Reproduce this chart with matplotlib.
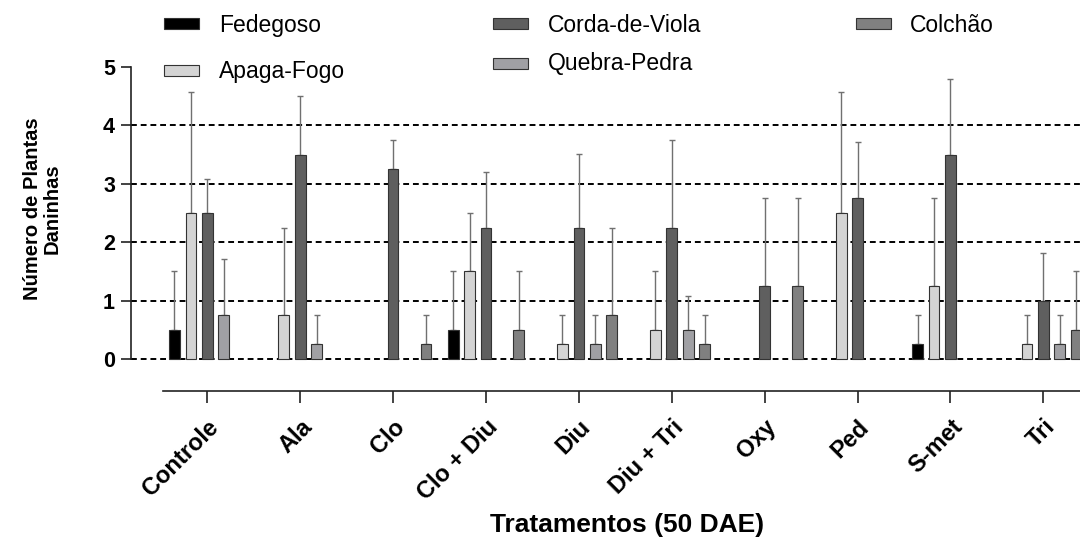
import numpy as np
import matplotlib.pyplot as plt
from matplotlib.patches import Rectangle

plt.rcParams['font.family'] = ['Liberation Sans', 'DejaVu Sans']

tratamentos = ['Controle', 'Ala', 'Clo', 'Clo + Diu', 'Diu', 'Diu + Tri',
               'Oxy', 'Ped', 'S-met', 'Tri']
especies = ['Fedegoso', 'Apaga-Fogo', 'Corda-de-Viola', 'Quebra-Pedra', 'Colchão']
cores = ['#000000', '#d4d4d4', '#5f5f5f', '#a0a0a4', '#808080']

# means per species (one value per treatment)
fedegoso   = [0.50, 0.00, 0.00, 0.50, 0.00, 0.00, 0.00, 0.00, 0.25, 0.00]
apaga_fogo = [2.50, 0.75, 0.00, 1.50, 0.25, 0.50, 0.00, 2.50, 1.25, 0.25]
corda      = [2.50, 3.50, 3.25, 2.25, 2.25, 2.25, 1.25, 2.75, 3.50, 1.00]
quebra     = [0.75, 0.25, 0.00, 0.00, 0.25, 0.50, 0.00, 0.00, 0.00, 0.25]
colchao    = [0.00, 0.00, 0.25, 0.50, 0.75, 0.25, 1.25, 0.00, 0.00, 0.50]

# standard deviations
dp_fedegoso   = [1.00, 0.00, 0.00, 1.00, 0.00, 0.00, 0.00, 0.00, 0.50, 0.00]
dp_apaga_fogo = [2.08, 1.50, 0.00, 1.00, 0.50, 1.00, 0.00, 2.08, 1.50, 0.50]
dp_corda      = [0.58, 1.00, 0.50, 0.96, 1.26, 1.50, 1.50, 0.96, 1.29, 0.82]
dp_quebra     = [0.96, 0.50, 0.00, 0.00, 0.50, 0.58, 0.00, 0.00, 0.00, 0.50]
dp_colchao    = [0.00, 0.00, 0.50, 1.00, 1.50, 0.50, 1.50, 0.00, 0.00, 1.00]

medias = [fedegoso, apaga_fogo, corda, quebra, colchao]
desvios = [dp_fedegoso, dp_apaga_fogo, dp_corda, dp_quebra, dp_colchao]

W, H = 1080, 541
fig = plt.figure(figsize=(W / 100, H / 100), dpi=100)
ax = fig.add_axes([131 / W, (H - 391) / H, (W - 131) / W, 324 / H])

x = np.arange(len(tratamentos))
passo = 0.1766
largura = 0.115

for k, (m, dp, cor) in enumerate(zip(medias, desvios, cores)):
    m = np.array(m)
    dp = np.array(dp)
    pos = x + (k - 2) * passo
    ok = m > 0
    ax.bar(pos[ok], m[ok], width=largura, color=cor, edgecolor='#333333',
           linewidth=0.8, zorder=3)
    ax.errorbar(pos[ok], m[ok], yerr=[np.zeros(ok.sum()), dp[ok]], fmt='none',
                ecolor='#707070', elinewidth=1.0, capsize=2.2, capthick=1.0,
                zorder=2)

# dashed reference lines
ax.hlines([0, 1, 2, 3, 4], -0.821, 9.394, colors='black', linewidth=1.4,
          linestyles=(0, (3, 2)), zorder=1)

ax.set_xlim(-0.821, 9.394)
ax.set_ylim(-0.548, 5)

for s in ['top', 'right']:
    ax.spines[s].set_visible(False)
ax.spines['left'].set_bounds(0, 5)
ax.spines['bottom'].set_bounds(-0.48, 9.394)
for s in ['left', 'bottom']:
    ax.spines[s].set_linewidth(1.2)
    ax.spines[s].set_color('#222222')

ax.set_yticks([0, 1, 2, 3, 4, 5])
ax.tick_params(axis='y', length=7.5, width=1.2, pad=4, labelsize=15.5,
               color='#222222')
ax.tick_params(axis='x', length=8.5, width=1.2, pad=9, color='#222222')
for t in ax.get_yticklabels():
    t.set_fontweight('bold')

ax.set_xticks(x)
ax.set_xticklabels(tratamentos, rotation=45, ha='right', va='top',
                   rotation_mode='anchor', fontsize=17, fontweight='bold')

ax.set_xlabel('Tratamentos (50 DAE)', fontsize=19, fontweight='bold', va='center')
ax.xaxis.set_label_coords(0.5227, -0.413)
ax.set_ylabel('Número de Plantas\nDaninhas', fontsize=14.5, fontweight='bold',
              va='center', ha='center', multialignment='center', linespacing=1.0)
ax.yaxis.set_label_coords(-0.0935, 0.563)

# legend entries: patch left, patch top, text left, text baseline (pixels)
leg_px = [164, 164, 493, 493, 856]
leg_py = [18.3, 65, 18.3, 58.3, 18.3]
leg_tx = [219, 219, 548, 548, 910]
leg_ty = [31.7, 78.3, 31.7, 70, 31.7]
for nome, cor, px, py, tx, ty in zip(especies, cores, leg_px, leg_py, leg_tx, leg_ty):
    fig.add_artist(Rectangle((px / W, 1 - (py + 11) / H), 35 / W, 11 / H,
                             transform=fig.transFigure, facecolor=cor,
                             edgecolor='#333333', linewidth=0.8))
    fig.text(tx / W, 1 - ty / H, nome, fontsize=16.5, ha='left', va='baseline')

fig.savefig('out.png', dpi=100)
